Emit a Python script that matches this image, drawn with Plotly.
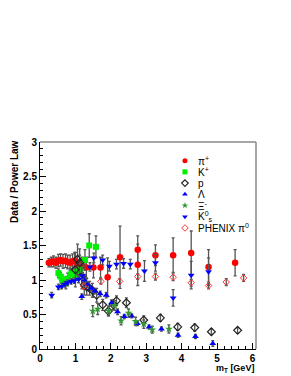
import plotly.graph_objects as go

# ---------------- data ----------------
pi_x = [0.25, 0.32, 0.38, 0.45, 0.52, 0.58, 0.65, 0.72, 0.78, 0.85, 0.92, 0.98, 1.05, 1.12, 1.20, 1.31, 1.51, 1.71, 1.91, 2.26, 2.76, 2.76, 3.26, 3.76, 4.27, 4.76, 5.51]
pi_y = [1.25, 1.26, 1.27, 1.25, 1.28, 1.29, 1.27, 1.28, 1.26, 1.25, 1.27, 1.28, 1.22, 1.23, 1.20, 1.18, 1.18, 1.18, 1.04, 1.33, 1.44, 1.22, 1.36, 1.36, 1.39, 1.19, 1.25]
pi_e = [0.06, 0.07, 0.08, 0.08, 0.09, 0.09, 0.10, 0.10, 0.10, 0.11, 0.11, 0.12, 0.12, 0.13, 0.13, 0.15, 0.15, 0.15, 0.28, 0.45, 0.20, 0.30, 0.15, 0.25, 0.32, 0.25, 0.19]

k_x = [0.52, 0.58, 0.63, 0.68, 0.73, 0.78, 0.85, 0.92, 0.98, 1.05, 1.12, 1.27, 1.39, 1.58]
k_y = [1.10, 1.05, 1.00, 0.97, 0.95, 1.02, 1.08, 1.10, 1.07, 1.12, 1.15, 1.29, 1.50, 1.48]
k_e = [0.06, 0.06, 0.07, 0.07, 0.08, 0.08, 0.09, 0.10, 0.10, 0.12, 0.13, 0.15, 0.17, 0.16]

p_x = [1.00, 1.06, 1.12, 1.18, 1.25, 1.32, 1.40, 1.48, 1.60, 1.77, 1.93, 2.07, 2.16, 2.44, 2.93, 3.40, 3.89, 4.37, 4.84, 5.58]
p_y = [1.15, 1.30, 1.25, 1.05, 0.93, 0.90, 0.88, 0.85, 0.78, 0.64, 0.55, 0.64, 0.70, 0.67, 0.42, 0.45, 0.32, 0.31, 0.25, 0.27]
p_e = [0.25, 0.22, 0.20, 0.18, 0.15, 0.12, 0.10, 0.10, 0.10, 0.08, 0.07, 0.07, 0.07, 0.07, 0.06, 0.05, 0.05, 0.05, 0.04, 0.04]

lam_x = [1.18, 1.25, 1.35, 1.45, 1.55, 1.70, 1.87, 2.02, 2.19, 2.38, 2.59, 2.75, 3.08, 3.43, 3.90, 4.39, 4.88]
lam_y = [0.76, 1.00, 0.93, 0.88, 0.84, 0.80, 0.78, 0.67, 0.54, 0.47, 0.48, 0.37, 0.32, 0.29, 0.20, 0.18, 0.08]
lam_e = [0.04, 0.04, 0.04, 0.04, 0.04, 0.04, 0.04, 0.04, 0.04, 0.03, 0.03, 0.03, 0.03, 0.03, 0.03, 0.03, 0.04]

xi_x = [1.49, 1.63, 1.94, 2.11, 2.29, 2.50, 2.70, 2.93, 3.17, 3.64]
xi_y = [0.55, 0.58, 0.55, 0.63, 0.41, 0.52, 0.40, 0.36, 0.28, 0.29]
xi_e = [0.08, 0.08, 0.07, 0.07, 0.06, 0.06, 0.06, 0.06, 0.05, 0.06]

k0_x = [0.33, 0.52, 0.61, 0.70, 0.78, 0.88, 0.97, 1.09, 1.20, 1.41, 1.52, 1.77, 1.96, 2.16, 2.36, 2.55, 2.95, 3.26, 3.76, 4.27, 4.76]
k0_y = [0.78, 0.90, 0.91, 0.94, 0.96, 0.98, 0.99, 1.01, 1.06, 1.19, 1.32, 1.29, 1.20, 1.23, 1.24, 1.23, 1.13, 1.25, 0.74, 1.07, 1.12]
k0_e = [0.04, 0.04, 0.04, 0.04, 0.04, 0.04, 0.04, 0.05, 0.05, 0.06, 0.07, 0.07, 0.07, 0.07, 0.07, 0.07, 0.15, 0.12, 0.12, 0.20, 0.20]

ph_x = [1.23, 1.72, 2.25, 2.76, 3.26, 3.76, 4.27, 4.76, 5.26, 5.75]
ph_y = [0.91, 0.98, 0.98, 1.05, 1.05, 1.04, 0.96, 0.92, 0.97, 1.03]
ph_e = [0.04, 0.04, 0.04, 0.04, 0.05, 0.05, 0.05, 0.05, 0.05, 0.05]

legend_labels = ["π<sup>+</sup>", "K<sup>+</sup>", "p", "Λ", "Ξ<sup>-</sup>",
                 "K<sup>0</sup><sub>s</sub>", "PHENIX π<sup>0</sup>"]

y_ticks = [0, 0.5, 1, 1.5, 2, 2.5, 3]
y_ticklabels = ["0", "0.5", "1", "1.5", "2", "2.5", "3"]
x_ticks = [0, 1, 2, 3, 4, 5, 6]
x_ticklabels = ["0", "1", "2", "3", "4", "5", "6"]

# ---------------- styles ----------------
series = [
    (pi_x, pi_y, pi_e, dict(symbol="circle", color="#ff0000", size=6.5)),
    (k_x, k_y, k_e, dict(symbol="square", color="#00ee00", size=6)),
    (p_x, p_y, p_e, dict(symbol="diamond-open", color="#222222", size=6, line=dict(width=1.2))),
    (lam_x, lam_y, lam_e, dict(symbol="triangle-up", color="#0000ff", size=6)),
    (xi_x, xi_y, xi_e, dict(symbol="star", color="#339933", size=6)),
    (k0_x, k0_y, k0_e, dict(symbol="triangle-down", color="#0000ff", size=6)),
    (ph_x, ph_y, ph_e, dict(symbol="diamond-open", color="#ff3333", size=5, line=dict(width=1))),
]

FONT = "Liberation Sans, Arial, sans-serif"
fig = go.Figure()

for xs, ys, es, mk in series:
    fig.add_trace(go.Scatter(
        x=xs, y=ys, mode="markers", marker=mk,
        error_y=dict(type="data", array=es, visible=True, color="#555555",
                     thickness=1.3, width=1.5),
        showlegend=False, hoverinfo="skip"))

# manual legend (markers on an overlay axis in plot fractions, labels as annotations)
leg_x = 0.671
leg_y0 = 0.91
leg_dy = 0.0542
for i, (xs, ys, es, mk) in enumerate(series):
    m = dict(mk)
    m["size"] = 5
    fig.add_trace(go.Scatter(
        x=[leg_x], y=[leg_y0 - i * leg_dy], xaxis="x2", yaxis="y2",
        mode="markers", marker=m, showlegend=False, hoverinfo="skip"))
    fig.add_annotation(x=0.722, y=leg_y0 - i * leg_dy, xref="paper", yref="paper",
                       text=legend_labels[i], showarrow=False, xanchor="left",
                       yanchor="middle", font=dict(family=FONT, size=10, color="black"))

# axis titles
fig.add_annotation(x=-0.116, y=0.807, xref="paper", yref="paper",
                   text="Data / Power Law", textangle=-90, showarrow=False,
                   xanchor="center", yanchor="middle",
                   font=dict(family=FONT, size=10, color="black", weight="bold"))
fig.add_annotation(x=1.0, y=-0.095, xref="paper", yref="paper",
                   text="m<sub>T</sub> [GeV]", showarrow=False,
                   xanchor="right", yanchor="middle",
                   font=dict(family=FONT, size=9, color="black", weight="bold"))

# gray frame top/right
fig.add_shape(type="line", xref="paper", yref="paper", x0=0, x1=1, y0=1, y1=1,
              line=dict(color="#888888", width=1.5))
fig.add_shape(type="line", xref="paper", yref="paper", x0=1, x1=1, y0=0, y1=1,
              line=dict(color="#888888", width=1.5))

# the page body adds an 8px offset; compensate in size and margins
fig.update_layout(
    width=283, height=368,
    margin=dict(l=32, r=35, t=134, b=27),
    paper_bgcolor="white", plot_bgcolor="white",
    font=dict(family=FONT, size=10, color="black"),
    xaxis=dict(range=[0, 6.1], tickvals=x_ticks, ticktext=x_ticklabels,
               ticks="inside", ticklen=6, tickcolor="black", showgrid=False,
               zeroline=False, showline=True, linecolor="black", linewidth=1,
               tickfont=dict(family=FONT, size=10, weight="bold"),
               minor=dict(ticks="inside", ticklen=3, dtick=0.2, tickcolor="black", showgrid=False)),
    yaxis=dict(range=[0, 3], tickvals=y_ticks, ticktext=y_ticklabels,
               ticks="inside", ticklen=6, tickcolor="black", showgrid=False,
               zeroline=False, showline=True, linecolor="black", linewidth=1,
               tickfont=dict(family=FONT, size=10, weight="bold"),
               minor=dict(ticks="inside", ticklen=3, dtick=0.1, tickcolor="black", showgrid=False)),
    xaxis2=dict(range=[0, 1], overlaying="x", visible=False, fixedrange=True),
    yaxis2=dict(range=[0, 1], overlaying="y", visible=False, fixedrange=True),
)

fig.write_html("out.html")
